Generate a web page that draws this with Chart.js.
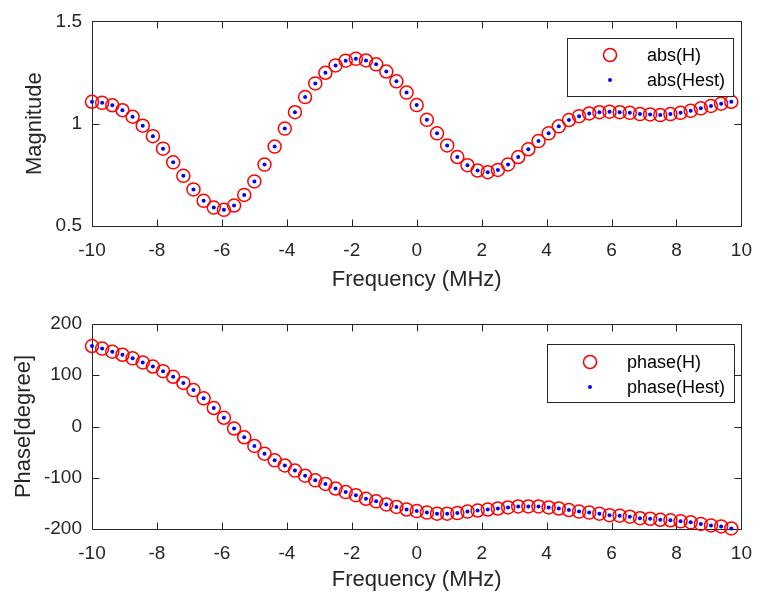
<!DOCTYPE html>
<html>
<head>
<meta charset="utf-8">
<script src="https://cdn.jsdelivr.net/npm/chart.js@4.4.0/dist/chart.umd.min.js"></script>
<style>
  body { margin: 0; background: #fff; }
  #wrap { position: relative; width: 765px; height: 595px; }
  canvas { position: absolute; left: 0; }
</style>
</head>
<body>
<div id="wrap">
  <canvas id="magChart" width="765" height="297" style="top:0"></canvas>
  <canvas id="phaseChart" width="765" height="298" style="top:297px"></canvas>
</div>
<script>
// frequency grid (MHz)
const freq = [
  -10, -9.6875, -9.375, -9.0625, -8.75, -8.4375, -8.125, -7.8125,
  -7.5, -7.1875, -6.875, -6.5625, -6.25, -5.9375, -5.625, -5.3125,
  -5, -4.6875, -4.375, -4.0625, -3.75, -3.4375, -3.125, -2.8125,
  -2.5, -2.1875, -1.875, -1.5625, -1.25, -0.9375, -0.625, -0.3125,
  0, 0.3125, 0.625, 0.9375, 1.25, 1.5625, 1.875, 2.1875,
  2.5, 2.8125, 3.125, 3.4375, 3.75, 4.0625, 4.375, 4.6875,
  5, 5.3125, 5.625, 5.9375, 6.25, 6.5625, 6.875, 7.1875,
  7.5, 7.8125, 8.125, 8.4375, 8.75, 9.0625, 9.375, 9.6875
];

// |H|
const magH = [
  1.107, 1.102, 1.090, 1.066, 1.034, 0.990, 0.939, 0.878,
  0.811, 0.745, 0.679, 0.623, 0.590, 0.579, 0.600, 0.652,
  0.718, 0.800, 0.888, 0.976, 1.056, 1.130, 1.197, 1.249,
  1.285, 1.308, 1.317, 1.309, 1.290, 1.255, 1.207, 1.152,
  1.091, 1.019, 0.953, 0.894, 0.837, 0.797, 0.771, 0.763,
  0.774, 0.801, 0.837, 0.875, 0.915, 0.953, 0.987, 1.018,
  1.037, 1.050, 1.056, 1.059, 1.056, 1.053, 1.047, 1.045,
  1.042, 1.047, 1.053, 1.063, 1.075, 1.087, 1.098, 1.107
];
// the estimate sits right on top of the measured points
const magHest = [...magH];

// phase(H) in degrees
const phaseH = [
  157, 152, 146, 140, 133, 125, 117, 108,
  97, 85, 71, 55, 36, 17, -4, -21,
  -38, -53, -66, -76, -86, -96, -105, -112,
  -121, -128, -134, -141, -146, -152, -157, -162,
  -165, -168, -170, -170, -169, -166, -164, -162,
  -160, -158, -156, -156, -156, -158, -160, -163,
  -166, -168, -170, -173, -174, -176, -179, -180,
  -182, -183, -185, -187, -190, -193, -195, -199
];
const phaseHest = [...phaseH];

const xTicks = [-10, -8, -6, -4, -2, 0, 2, 4, 6, 8, 10];
const magTicks = [0.5, 1, 1.5];
const phaseTicks = [-200, -100, 0, 100, 200];

const FONT = "'Liberation Sans', Arial, Helvetica, sans-serif";
const INK = '#262626';

function toPoints(xs, ys) {
  return xs.map((x, i) => ({ x: x, y: ys[i] }));
}

// MATLAB style box with inward ticks on all four sides
const boxPlugin = {
  id: 'matlabBox',
  beforeDatasetsDraw(chart) {
    const { ctx, chartArea: a, scales } = chart;
    const L = Math.round(a.left) + 0.5, R = Math.round(a.right) + 0.5;
    const T = Math.round(a.top) + 0.5, B = Math.round(a.bottom) + 0.5;
    const len = 7;
    ctx.save();
    ctx.strokeStyle = INK;
    ctx.lineWidth = 1;
    ctx.beginPath();
    ctx.rect(L, T, R - L, B - T);
    scales.x.ticks.forEach(t => {
      const px = Math.round(scales.x.getPixelForValue(t.value)) + 0.5;
      ctx.moveTo(px, B); ctx.lineTo(px, B - len);
      ctx.moveTo(px, T); ctx.lineTo(px, T + len);
    });
    scales.y.ticks.forEach(t => {
      const py = Math.round(scales.y.getPixelForValue(t.value)) + 0.5;
      ctx.moveTo(L, py); ctx.lineTo(L + len, py);
      ctx.moveTo(R, py); ctx.lineTo(R - len, py);
    });
    ctx.stroke();
    ctx.restore();
  }
};

// legend drawn inside the axes, like MATLAB's 'NorthEast' legend
const boxLegend = {
  id: 'boxLegend',
  afterDatasetsDraw(chart, args, opts) {
    const { ctx } = chart;
    ctx.save();
    ctx.fillStyle = '#fff';
    ctx.fillRect(opts.left, opts.top, opts.width, opts.height);
    ctx.strokeStyle = INK;
    ctx.lineWidth = 1;
    ctx.strokeRect(opts.left + 0.5, opts.top + 0.5, opts.width, opts.height);
    chart.data.datasets.forEach((ds, i) => {
      const cy = opts.top + opts.rowTop + i * opts.rowGap;
      ctx.beginPath();
      ctx.arc(opts.markerX, cy, ds.pointRadius, 0, Math.PI * 2);
      if (ds.pointBorderWidth > 0) {
        ctx.strokeStyle = ds.pointBorderColor;
        ctx.lineWidth = ds.pointBorderWidth;
        ctx.stroke();
      } else {
        ctx.fillStyle = ds.pointBackgroundColor;
        ctx.fill();
      }
      ctx.fillStyle = '#000';
      ctx.font = '18px ' + FONT;
      ctx.textAlign = 'left';
      ctx.textBaseline = 'middle';
      ctx.fillText(ds.label, opts.textX, cy + 1);
    });
    ctx.restore();
  }
};

function makeChart(id, cfg) {
  return new Chart(document.getElementById(id), {
    type: 'scatter',
    data: {
      datasets: [{
        label: cfg.labels[0],
        data: toPoints(freq, cfg.series[0]),
        pointRadius: 6.5,
        pointHoverRadius: 6.5,
        pointBorderWidth: 1.5,
        pointBorderColor: '#ff0000',
        pointBackgroundColor: 'rgba(0,0,0,0)',
        showLine: false,
        clip: false
      }, {
        label: cfg.labels[1],
        data: toPoints(freq, cfg.series[1]),
        pointRadius: 2,
        pointHoverRadius: 2,
        pointBorderWidth: 0,
        pointBorderColor: '#0000ff',
        pointBackgroundColor: '#0000ff',
        showLine: false,
        clip: false
      }]
    },
    options: {
      responsive: false,
      animation: false,
      devicePixelRatio: 1,
      layout: { padding: { left: 0, right: 13, top: cfg.padTop, bottom: 0 } },
      plugins: {
        legend: { display: false },
        tooltip: { enabled: false },
        boxLegend: cfg.legend
      },
      scales: {
        x: {
          type: 'linear',
          min: -10, max: 10,
          afterBuildTicks: s => { s.ticks = xTicks.map(v => ({ value: v })); },
          afterFit: s => { s.height = cfg.xHeight; },
          grid: { display: false, drawTicks: false },
          border: { display: false },
          ticks: {
            color: INK, font: { family: FONT, size: 19 }, padding: 13, maxRotation: 0,
            callback: v => String(v)
          },
          title: {
            display: true, text: 'Frequency (MHz)', color: INK,
            font: { family: FONT, size: 22 }, padding: { top: 0, bottom: cfg.xTitlePad }
          }
        },
        y: {
          type: 'linear',
          min: cfg.yMin, max: cfg.yMax,
          afterBuildTicks: s => { s.ticks = cfg.yTicks.map(v => ({ value: v })); },
          afterFit: s => { s.width = 92; },
          grid: { display: false, drawTicks: false },
          border: { display: false },
          ticks: {
            color: INK, font: { family: FONT, size: 19 }, padding: 10,
            callback: v => String(v)
          },
          title: {
            display: true, text: cfg.yTitle, color: INK,
            font: { family: FONT, size: 22 }, padding: { top: cfg.yTitlePad, bottom: 0 }
          }
        }
      }
    },
    plugins: [boxPlugin, boxLegend]
  });
}

makeChart('magChart', {
  labels: ['abs(H)', 'abs(Hest)'],
  series: [magH, magHest],
  yMin: 0.5, yMax: 1.5, yTicks: magTicks,
  yTitle: 'Magnitude', yTitlePad: 22,
  padTop: 18, xHeight: 71, xTitlePad: 4,
  legend: { left: 567, top: 38, width: 166, height: 58, markerX: 610, textX: 647, rowTop: 17, rowGap: 25 }
});

makeChart('phaseChart', {
  labels: ['phase(H)', 'phase(Hest)'],
  series: [phaseH, phaseHest],
  yMin: -200, yMax: 200, yTicks: phaseTicks,
  yTitle: 'Phase[degree]', yTitlePad: 11,
  padTop: 27, xHeight: 66, xTitlePad: 2,
  legend: { left: 547, top: 47, width: 187, height: 58, markerX: 590, textX: 627, rowTop: 18, rowGap: 25 }
});
</script>
</body>
</html>
